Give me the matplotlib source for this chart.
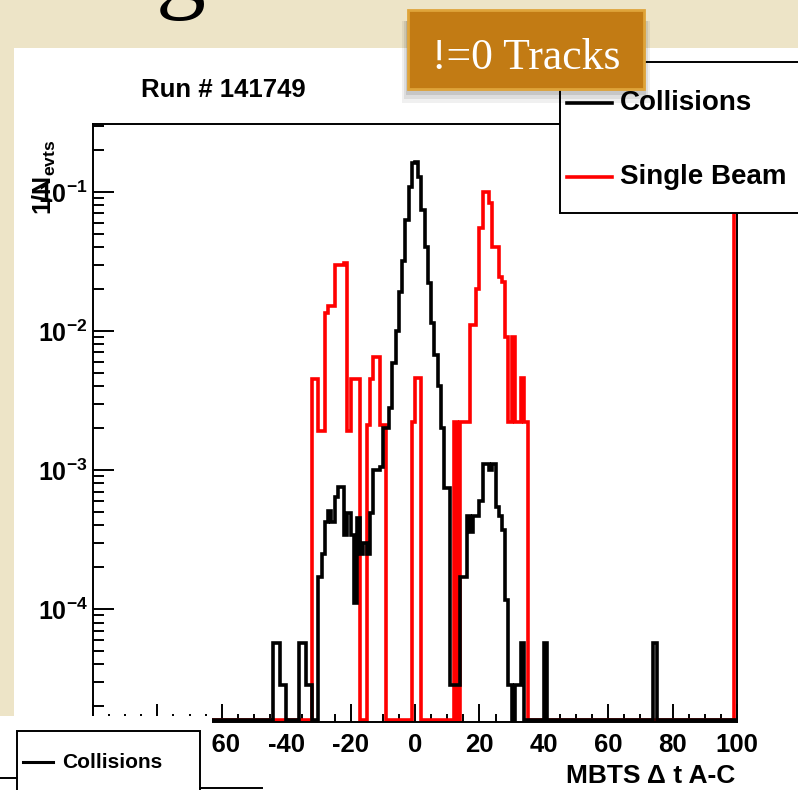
import numpy as np
import matplotlib
matplotlib.use('Agg')
import matplotlib.pyplot as plt
from matplotlib.patches import Rectangle
from matplotlib.lines import Line2D
from matplotlib.ticker import LogLocator, NullFormatter, MultipleLocator

plt.rcParams['font.family'] = 'Liberation Sans'
plt.rcParams['mathtext.fontset'] = 'custom'
plt.rcParams['mathtext.bf'] = 'Liberation Sans:bold'
plt.rcParams['mathtext.rm'] = 'Liberation Sans:bold'

# ---- data (1 ns bins, left edge -> 1/N_evts) ----
bin_lo, bin_hi = -63, 100

coll_bins = [-44, -43, -42, -41, -36, -35, -34, -33,
             -30, -29, -28, -27, -26, -25, -24, -23, -22, -21, -20, -19, -18, -17, -16, -15, -14,
             -13, -12, -11, -10, -9, -8, -7, -6, -5, -4, -3, -2, -1, 0, 1, 2, 3, 4, 5, 6, 7, 8,
             9, 10, 11, 12, 13, 14, 15, 16, 17, 18, 19, 20, 21, 22, 23, 24, 25, 26, 27, 28, 29,
             31, 32, 33, 40, 74]
coll_vals = [5.7e-5, 5.7e-5, 2.85e-5, 2.85e-5, 5.7e-5, 5.7e-5, 2.85e-5, 2.85e-5,
             1.7e-4, 2.5e-4, 4.2e-4, 5.1e-4, 4.2e-4, 6.4e-4, 7.6e-4, 7.6e-4, 3.4e-4, 4.9e-4,
             3.4e-4, 1.1e-4, 4.5e-4, 2.5e-4, 3.0e-4, 2.5e-4, 4.9e-4,
             1.0e-3, 1.0e-3, 1.05e-3, 2.0e-3, 2.0e-3, 2.8e-3, 5.9e-3, 1.0e-2, 1.9e-2, 3.2e-2,
             6.3e-2, 1.09e-1, 1.62e-1, 1.64e-1, 1.28e-1, 7.4e-2, 4.0e-2, 2.2e-2, 1.14e-2,
             6.7e-3, 4.0e-3, 2.0e-3,
             7.4e-4, 7.4e-4, 2.85e-5, 2.85e-5, 2.85e-5, 1.7e-4, 1.7e-4, 4.7e-4, 3.6e-4, 4.7e-4,
             4.7e-4, 6.0e-4, 1.1e-3, 1.1e-3, 1.0e-3, 1.1e-3, 5.4e-4, 4.7e-4, 3.7e-4, 1.16e-4,
             2.85e-5, 2.85e-5, 2.85e-5, 5.7e-5, 5.7e-5, 5.7e-5]

beam_bins = [-32, -31, -30, -29, -28, -27, -26, -25, -24, -23, -22, -21, -20, -19, -18,
             -15, -14, -13, -12, -11, -10, -1, 0, 1,
             12, 14, 15, 16, 17, 18, 19, 20, 21, 22, 23, 24, 25, 26, 27, 28, 29, 30, 31, 32,
             33, 34, 99]
beam_vals = [4.5e-3, 4.5e-3, 1.9e-3, 1.9e-3, 1.35e-2, 1.5e-2, 1.5e-2, 3.0e-2, 3.0e-2,
             3.0e-2, 3.1e-2, 1.9e-3, 4.5e-3, 4.5e-3, 4.5e-3,
             2.1e-3, 4.5e-3, 6.5e-3, 6.5e-3, 2.1e-3, 2.1e-3, 2.2e-3, 4.6e-3, 4.6e-3,
             2.2e-3, 2.2e-3, 2.2e-3, 2.2e-3, 1.1e-2, 1.1e-2, 2.0e-2, 5.5e-2, 1.0e-1, 1.0e-1,
             8.3e-2, 4.0e-2, 4.0e-2, 2.45e-2, 2.25e-2, 9e-3, 2.2e-3, 9e-3, 2.2e-3, 2.2e-3,
             4.6e-3, 2.2e-3, 1.0]

x_ticks = [-100, -80, -60, -40, -20, 0, 20, 40, 60, 80, 100]
x_labels = ['', '', '-60', '-40', '-20', '0', '20', '40', '60', '80', '100']
y_ticks = [1e-4, 1e-3, 1e-2, 1e-1]
y_labels = [r'$\mathbf{10^{-4}}$', r'$\mathbf{10^{-3}}$', r'$\mathbf{10^{-2}}$', r'$\mathbf{10^{-1}}$']
ymin, ymax = 1.54e-5, 0.308

W, H = 798, 790
def fx(x):
    return x / W
def fy(y):
    return 1 - y / H

edges = np.arange(bin_lo, bin_hi + 1)
floor = ymin * 1.03

def fill(bins, vals):
    h = np.full(len(edges) - 1, floor)
    for b, v in zip(bins, vals):
        h[b - bin_lo] = v
    return h

coll = fill(coll_bins, coll_vals)
beam = fill(beam_bins, beam_vals)

fig = plt.figure(figsize=(W / 100, H / 100), dpi=100, facecolor='#EDE4C7')

# white canvas area
fig.add_artist(Rectangle((fx(14), fy(718)), fx(798) - fx(14), fy(48) - fy(718),
                         transform=fig.transFigure, facecolor='white', edgecolor='none', zorder=-2))
fig.add_artist(Rectangle((0, 0), 1, fy(718), transform=fig.transFigure,
                         facecolor='white', edgecolor='none', zorder=-2))

ax = fig.add_axes([fx(93), fy(722), fx(737) - fx(93), fy(124) - fy(722)])
ax.stairs(beam, edges, color='#ff0000', lw=2.6, baseline=None, zorder=2)
ax.stairs(coll, edges, color='black', lw=2.6, baseline=None, zorder=3)

ax.set_yscale('log')
ax.set_ylim(ymin, ymax)
ax.set_xlim(-100, 100)
ax.set_yticks(y_ticks)
ax.set_yticklabels(y_labels)
ax.yaxis.set_minor_locator(LogLocator(subs=np.arange(2, 10)))
ax.yaxis.set_minor_formatter(NullFormatter())
ax.set_xticks(x_ticks)
ax.set_xticklabels(x_labels, fontweight='bold')
ax.xaxis.set_minor_locator(MultipleLocator(5))
ax.tick_params(which='both', direction='in', width=1.4, colors='black')
ax.tick_params(axis='y', which='major', length=15, labelsize=18, pad=4)
ax.tick_params(axis='y', which='minor', length=8)
ax.tick_params(axis='x', which='major', length=13, labelsize=18.5, pad=8)
ax.tick_params(axis='x', which='minor', length=6)
for s in ax.spines.values():
    s.set_linewidth(1.4)

# white patch hiding the far-left part of the x axis
fig.add_artist(Rectangle((0, 0), fx(212), fy(716), transform=fig.transFigure,
                         facecolor='white', edgecolor='none', zorder=4))

fig.text(fx(223), fy(97), 'Run # 141749', fontsize=18.5, fontweight='bold', ha='center', va='baseline')
fig.text(fx(44), fy(140), r'$\mathbf{1/N_{evts}}$', fontsize=18, rotation=90, ha='center', va='top')
fig.text(fx(735), fy(783), 'MBTS Δ t A-C', fontsize=19, fontweight='bold', ha='right', va='baseline')

# legend, top right
fig.add_artist(Rectangle((fx(560), fy(213)), fx(820) - fx(560), fy(62) - fy(213), transform=fig.transFigure,
                         facecolor='white', edgecolor='black', lw=1.4, zorder=5))
fig.add_artist(Line2D([fx(567), fx(612)], [fy(103), fy(103)], transform=fig.transFigure,
                      color='black', lw=2.6, zorder=6))
fig.add_artist(Line2D([fx(567), fx(612)], [fy(177), fy(177)], transform=fig.transFigure,
                      color='#ff0000', lw=2.6, zorder=6))
fig.text(fx(620), fy(110), 'Collisions', fontsize=20, fontweight='bold', va='baseline', zorder=6)
fig.text(fx(620), fy(184), 'Single Beam', fontsize=20, fontweight='bold', va='baseline', zorder=6)

# legend, bottom left
fig.add_artist(Rectangle((fx(17), fy(800)), fx(200) - fx(17), fy(731) - fy(800), transform=fig.transFigure,
                         facecolor='white', edgecolor='black', lw=1.4, zorder=5))
fig.add_artist(Line2D([fx(23), fx(53)], [fy(762), fy(762)], transform=fig.transFigure,
                      color='black', lw=2.2, zorder=6))
fig.add_artist(Line2D([0, fx(17)], [fy(778), fy(778)], transform=fig.transFigure,
                      color='black', lw=1.4, zorder=6))
fig.add_artist(Line2D([fx(200), fx(262)], [fy(788), fy(788)], transform=fig.transFigure,
                      color='black', lw=1.4, zorder=6))
fig.text(fx(62), fy(768), 'Collisions', fontsize=15, fontweight='bold', va='baseline', zorder=6)

# slide title fragment and label box
fig.text(fx(181), fy(0), 'g', fontsize=72, family='Liberation Serif', ha='center', va='baseline', zorder=6)
for i, a in enumerate([0.06, 0.08, 0.10, 0.14]):
    g = 6 - 2 * i
    fig.add_artist(Rectangle((fx(408 - g), fy(89 + 2 * g + 2)), fx(236 + 2 * g), fy(0) - fy(70 + 2 * g),
                             transform=fig.transFigure, facecolor='black', edgecolor='none',
                             alpha=a, zorder=7))
fig.add_artist(Rectangle((fx(408), fy(89)), fx(236), fy(0) - fy(79), transform=fig.transFigure,
                         facecolor='#C27B14', edgecolor='#DFA43A', lw=2, zorder=8))
fig.text(fx(526), fy(69), '!=0 Tracks', fontsize=31.5, family='Liberation Serif', color='white',
         ha='center', va='baseline', zorder=9)

fig.savefig('out.png', dpi=100, facecolor=fig.get_facecolor())
